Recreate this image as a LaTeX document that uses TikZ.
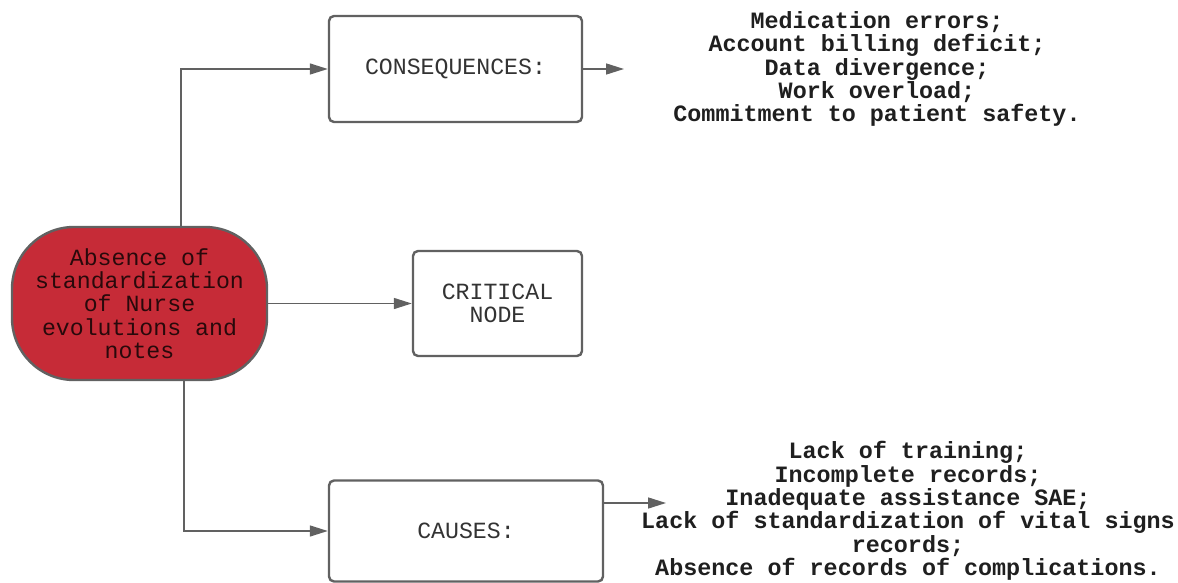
\documentclass[tikz,border=0pt]{standalone}
\usepackage{fontspec}
\setmonofont{Liberation Mono}
\usetikzlibrary{arrows.meta,calc}
\definecolor{rootred}{HTML}{C62B37}
\definecolor{edgegray}{HTML}{616161}
\definecolor{txtgray}{HTML}{333333}
\begin{document}
\begin{tikzpicture}[x=1pt,y=-1pt,
  boxstyle/.style={draw=edgegray,line width=2.4pt,rounded corners=5pt,fill=white,
    align=center,text=txtgray,font=\ttfamily\fontsize{23.2}{23.5}\selectfont,inner sep=0pt},
  rootstyle/.style={draw=edgegray,line width=2.4pt,rounded corners=62pt,fill=rootred,
    align=center,text=black!80!rootred,font=\ttfamily\fontsize{23.2}{23.3}\selectfont,inner sep=0pt,
    minimum width=255pt,minimum height=153pt},
  listtext/.style={align=center,text=black!88,font=\ttfamily\bfseries\fontsize{23.4}{23.4}\selectfont,inner sep=0pt},
  conn/.style={draw=edgegray,line width=1.5pt,-{Triangle[length=18pt,width=11pt]}}
]
\useasboundingbox (0,0) rectangle (1178,583);
\node[rootstyle] (root) at (139.5,303.5) {Absence of\\standardization\\of Nurse\\evolutions and\\notes};
\node[boxstyle,minimum width=253pt,minimum height=106pt] (cons) at (455.5,69) {CONSEQUENCES:};
\node[boxstyle,minimum width=169pt,minimum height=105pt] (crit) at (497.5,303.5) {CRITICAL\\NODE};
\node[boxstyle,minimum width=274pt,minimum height=101pt] (causes) at (466,531) {CAUSES:};
\node[listtext] (constext) at (877,69) {Medication errors;\\Account billing deficit;\\Data divergence;\\Work overload;\\Commitment to patient safety.};
\node[listtext] (causetext) at (908,511) {Lack of training;\\Incomplete records;\\Inadequate assistance SAE;\\Lack of standardization of vital signs\\records;\\Absence of records of complications.};
\coordinate (consend) at (624,69);
\coordinate (causeend) at (666,503);
\draw[conn] ([xshift=41.5pt]root.north) |- (cons.west);
\draw[conn] (root.east) -- (crit.west);
\draw[conn] ([xshift=44.5pt]root.south) |- (causes.west);
\draw[conn] (cons.east) -- (consend);
\draw[conn] ([yshift=28pt]causes.east) -- (causeend);
\end{tikzpicture}
\end{document}
